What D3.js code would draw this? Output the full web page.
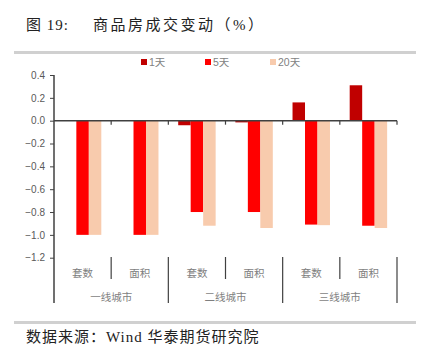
<!DOCTYPE html>
<html lang="zh">
<head>
  <meta charset="utf-8">
  <title>商品房成交变动</title>
  <script src="https://cdn.jsdelivr.net/npm/d3@7"></script>
  <style>
    body { margin: 0; background: #fff; }
    svg { display: block; }
    .tick-label { font-family: "Liberation Sans", "Noto Sans CJK SC", sans-serif; font-size: 10px; fill: #595959; }
    .cat-label { font-family: "Liberation Sans", "Noto Sans CJK SC", sans-serif; font-size: 10.5px; fill: #7f7f7f; }
    .title { font-family: "Liberation Serif", "Noto Sans CJK SC", serif; font-size: 15px; fill: #222; }
  </style>
</head>
<body>
  <svg id="chart" width="421" height="354"></svg>
  <script>
    // 数据
    var cities = ['一线城市', '二线城市', '三线城市'];
    var measures = ['套数', '面积'];
    var seriesNames = ['1天', '5天', '20天'];
    var seriesColors = ['#c00000', '#ff0000', '#f8cbad'];
    var day1 = [0, 0, -0.04, -0.015, 0.16, 0.31];
    var day5 = [-1.0, -1.0, -0.80, -0.80, -0.91, -0.92];
    var day20 = [-1.0, -1.0, -0.92, -0.94, -0.915, -0.94];
    var yTicks = [0.4, 0.2, 0.0, -0.2, -0.4, -0.6, -0.8, -1.0, -1.2];

    var svg = d3.select('#chart');

    // 类别 key
    var keys = [];
    cities.forEach(function (c) {
      measures.forEach(function (m) { keys.push(c + '|' + m); });
    });
    var series = [day1, day5, day20];

    var x = d3.scaleBand().domain(keys).range([54, 397]);
    var xInner = d3.scaleBand().domain(seriesNames).range([0, x.bandwidth()]).paddingOuter(0.79);
    var y = d3.scaleLinear().domain([-1.2, 0.4]).range([257.7, 75]);

    // 上下灰色横线
    svg.append('line').attr('x1', 14).attr('x2', 416).attr('y1', 52.5).attr('y2', 52.5)
      .style('stroke', '#d0d0d0').style('stroke-width', 3);
    svg.append('line').attr('x1', 14).attr('x2', 416).attr('y1', 322.5).attr('y2', 322.5)
      .style('stroke', '#d0d0d0').style('stroke-width', 3);

    // 标题
    svg.append('text').attr('class', 'title').attr('x', 26).attr('y', 30)
      .style('letter-spacing', '1px').text('图 19:');
    svg.append('text').attr('class', 'title').attr('x', 93).attr('y', 30)
      .style('letter-spacing', '2.5px').text('商品房成交变动（%）');
    svg.append('text').attr('class', 'title').attr('x', 26).attr('y', 342)
      .style('letter-spacing', '1px').text('数据来源：Wind 华泰期货研究院');

    // 柱子
    series.forEach(function (vals, si) {
      svg.append('g')
        .selectAll('rect')
        .data(vals)
        .enter()
        .append('rect')
        .attr('x', (d, i) => x(keys[i]) + xInner(seriesNames[si]))
        .attr('width', xInner.bandwidth())
        .attr('y', (d) => y(Math.max(0, d)))
        .attr('height', (d) => Math.abs(y(d) - y(0)))
        .style('fill', seriesColors[si]);
    });

    // y 轴
    var yAxis = d3.axisLeft(y).tickValues(yTicks).tickSize(4).tickFormat(d3.format('.1f'));
    var gy = svg.append('g').attr('transform', 'translate(54,0)').call(yAxis);
    gy.select('.domain').remove();
    gy.selectAll('.tick line').style('stroke', '#404040');
    gy.selectAll('.tick text').attr('class', 'tick-label').attr('x', -9);
    svg.append('line').attr('x1', 54).attr('x2', 54).attr('y1', 75).attr('y2', 303)
      .style('stroke', '#404040').style('stroke-width', 1.5);

    // 零线
    var bounds = keys.map((k) => x(k)).concat([x.range()[1]]);
    svg.append('line').attr('x1', 54).attr('x2', 397).attr('y1', y(0)).attr('y2', y(0))
      .style('stroke', '#404040').style('stroke-width', 1.5);
    svg.append('g').selectAll('line').data(bounds.slice(1)).enter().append('line')
      .attr('x1', (d) => d).attr('x2', (d) => d)
      .attr('y1', y(0)).attr('y2', y(0) + 4)
      .style('stroke', '#404040').style('stroke-width', 1.2);

    // 分类轴（两层）
    svg.append('g').selectAll('line').data(bounds.slice(1)).enter().append('line')
      .attr('x1', (d) => d).attr('x2', (d) => d)
      .attr('y1', 257)
      .attr('y2', (d, i) => (i % 2 === 0 && i < bounds.length - 2) ? 279 : 303)
      .style('stroke', '#404040').style('stroke-width', 1.2);

    svg.append('g').selectAll('text').data(keys).enter().append('text')
      .attr('class', 'cat-label')
      .attr('x', (d) => x(d) + x.bandwidth() / 2)
      .attr('y', 277)
      .attr('text-anchor', 'middle')
      .text((d) => d.split('|')[1]);

    svg.append('g').selectAll('text').data(cities).enter().append('text')
      .attr('class', 'cat-label')
      .attr('x', (d, i) => x(keys[i * 2]) + x.bandwidth())
      .attr('y', 301)
      .attr('text-anchor', 'middle')
      .text((d) => d);

    // 图例
    var legendX = [141, 205, 270];
    var lg = svg.append('g').selectAll('g').data(seriesNames).enter().append('g')
      .attr('transform', (d, i) => `translate(${legendX[i]},59)`);
    lg.append('rect').attr('width', 6).attr('height', 6).style('fill', (d, i) => seriesColors[i]);
    lg.append('text').attr('class', 'cat-label').attr('x', 8).attr('y', 6.5).text((d) => d);
  </script>
</body>
</html>
